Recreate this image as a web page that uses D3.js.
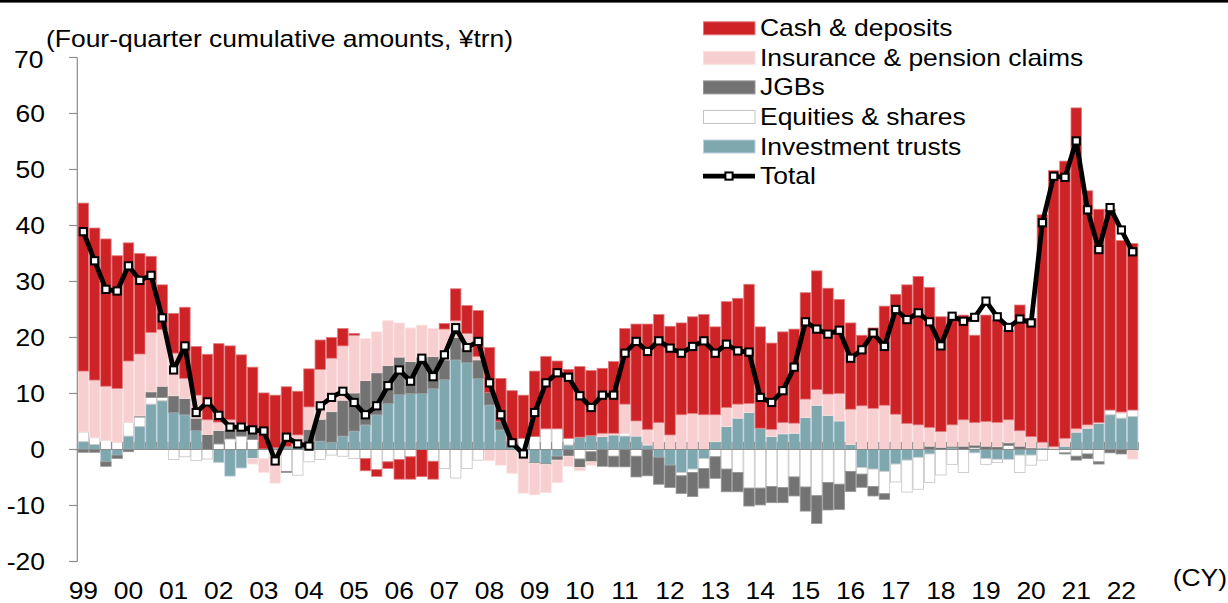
<!DOCTYPE html>
<html><head><meta charset="utf-8">
<script src="https://cdn.jsdelivr.net/npm/d3@7"></script>
<style>body{margin:0;background:#fff} text{font-family:"Liberation Sans",Arial,sans-serif;fill:#000}</style>
</head><body><svg id="c" width="1228" height="603"></svg>
<script>
const quarters = [
"1999Q1","1999Q2","1999Q3","1999Q4","2000Q1","2000Q2","2000Q3","2000Q4",
"2001Q1","2001Q2","2001Q3","2001Q4","2002Q1","2002Q2","2002Q3","2002Q4",
"2003Q1","2003Q2","2003Q3","2003Q4","2004Q1","2004Q2","2004Q3","2004Q4",
"2005Q1","2005Q2","2005Q3","2005Q4","2006Q1","2006Q2","2006Q3","2006Q4",
"2007Q1","2007Q2","2007Q3","2007Q4","2008Q1","2008Q2","2008Q3","2008Q4",
"2009Q1","2009Q2","2009Q3","2009Q4","2010Q1","2010Q2","2010Q3","2010Q4",
"2011Q1","2011Q2","2011Q3","2011Q4","2012Q1","2012Q2","2012Q3","2012Q4",
"2013Q1","2013Q2","2013Q3","2013Q4","2014Q1","2014Q2","2014Q3","2014Q4",
"2015Q1","2015Q2","2015Q3","2015Q4","2016Q1","2016Q2","2016Q3","2016Q4",
"2017Q1","2017Q2","2017Q3","2017Q4","2018Q1","2018Q2","2018Q3","2018Q4",
"2019Q1","2019Q2","2019Q3","2019Q4","2020Q1","2020Q2","2020Q3","2020Q4",
"2021Q1","2021Q2","2021Q3","2021Q4","2022Q1","2022Q2"];
const yearLabels = ["99","00","01","02","03","04","05","06","07","08","09","10","11","12","13","14","15","16","17","18","19","20","21","22"];
const yTicks = [-20,-10,0,10,20,30,40,50,60,70];

const investmentTrusts = [1.4,0.9,-2.2,-1.0,2.4,4.1,8.1,8.7, 6.6,6.2,3.4,0,-2.3,-4.75,-3.3,-1.6,
 0.1,0.3,0.5,0.5,0,1.5,1.3,2.4, 3.3,4.4,6.2,8.2,9.8,10.0,10.0,10.9, 12.5,16.0,15.5,12.7,7.95,3.5,0.5,-1.0,
 -2.3,-2.5,-1.2,0.8,2.2,2.5,2.3,2.6, 2.4,2.4,0.8,-1.4,-2.8,-4.1,-3.5,-1.6, 1.4,4.1,5.6,6.6,3.8,2.3,2.8,2.9,
 5.7,7.9,6.1,5.1,0.9,-3.2,-3.5,-3.9, -2.6,-1.9,-1.4,-0.8,0,0.3,0,-0.6, -1.6,-1.75,-1.75,-1.0,-1.0,0.3,0,0.6,
 3.1,3.8,4.7,6.2,5.6,5.9];
const equities = [1.7,1.2,1.6,1.3,2.45,1.7,1.2,0.6, -1.8,-1.3,-2.0,-1.7,1.0,1.9,2.4,1.8,
 -1.7,0,-3.9,-4.6,-2.2,-1.8,-1.0,-1.2, -1.6,-1.6,-3.6,-2.2,-1.8,-1.3,0,-2.1, -3.4,-5.1,-3.4,-1.9,0,0,0,2.0,
 2.3,3.7,3.7,1.2,-1.7,-0.4,0,-1.2, 0.5,-1.2,0,0,0,-0.6,-0.6,-1.8, -1.3,-3.5,-4.1,-6.9,-6.9,-6.6,-6.8,-4.9,
 -6.7,-8.25,-5.9,-6.2,-3.9,-1.2,-3.1,-4.0, -3.2,-5.7,-5.7,-5.1,-4.55,-2.65,-4.1,0.3, -1.05,-0.6,0.7,-3.1,-1.8,-1.9,0,-0.6,
 -1.2,-0.8,-2.2,0.85,0.85,1.15];
const jgbs = [-0.5,-0.5,-0.8,-0.6,-0.4,0.2,1.0,2.0, 3.0,2.9,2.2,2.7,2.4,1.6,1.3,1.6,
 0,0,-0.2,0,3.6,3.9,5.45,6.4, 6.8,7.9,7.5,6.8,6.7,5.7,6.5,5.7, 3.5,4.0,2.6,3.3,2.2,1.5,0,0,
 -0.2,-0.2,-0.7,-1.2,-1.5,-1.8,-3.0,-1.9, -3.1,-3.7,-4.7,-4.8,-4.0,-3.15,-4.3,-3.5, -3.85,-4.05,-3.45,-3.2,-3.0,-2.9,-2.7,-3.4,
 -4.3,-4.95,-4.9,-4.5,-3.6,-2.35,-1.7,-1.0, 0,0,0,0.6,0.4,0.3,0.6,0.5, 0.6,0.5,0.5,0.6,0.3,0,0.2,-0.2,
 -0.7,-0.8,-0.4,-0.6,-0.8,-0.2];
const insurance = [10.9,10.3,9.7,9.6,10.95,11.05,10.6,10.1, 7.6,3.6,4.1,2.6,1.5,1.8,1.0,-1.0,
 -2.4,-6.0,0,2.1,4.0,8.9,9.55,9.7, 10.3,7.5,7.3,8.0,6.1,6.0,5.7,5.0, 5.5,3.0,2.6,0.6,-2.0,-2.8,-4.25,-6.8,
 -5.6,-5.0,-4.0,-1.8,-0.6,-0.6,0.6,0.3, 5.2,2.7,2.8,4.8,2.6,6.2,6.45,6.2, 4.8,3.4,2.5,1.6,0,1.3,2.0,1.8,
 3.3,2.8,3.8,4.9,6.3,7.8,7.35,7.9, 6.3,4.65,4.4,3.35,2.8,3.8,4.7,4.0, 4.4,4.35,4.1,2.75,2.0,1.0,0.3,1.4,
 0.6,0.6,0.1,0,0.25,-1.5];
const cash = [30.0,27.15,26.3,23.7,21.1,17.95,13.6,8.0, 7.1,12.7,8.7,11.7,14.0,13.2,12.2,11.3,
 10.0,9.4,10.7,7.8,6.8,5.25,3.7,3.1, 0.3,-2.2,-1.2,-1.2,-3.5,-4.0,-4.85,-3.2, 1.0,5.7,5.0,8.2,8.05,7.7,10.0,7.7,
 11.7,12.9,12.1,12.3,12.6,11.6,11.6,12.8, 13.5,17.3,18.8,19.3,19.4,16.4,17.25,17.9, 15.7,18.9,18.9,21.3,18.1,15.4,16.2,16.8,
 19.0,21.2,18.9,16.8,15.4,12.6,14.35,17.7, 21.4,24.75,26.5,25.0,20.5,19.3,18.7,15.6, 19.0,18.25,16.0,22.45,21.1,40.6,49.3,49.5,
 57.3,41.8,38.1,35.85,30.6,29.75];
const total = [38.9,33.7,28.6,28.3,32.8,30.2,31.1,23.5, 14.2,18.5,6.6,8.5,6.1,4.0,4.0,3.5,
 3.3,-2.05,2.2,1.0,0.6,7.8,9.3,10.4, 8.4,6.2,7.8,11.4,14.2,12.2,16.3,13.0, 16.9,21.75,18.2,19.3,11.9,6.2,1.2,-0.8,
 6.6,11.9,13.7,12.9,9.6,7.5,9.7,9.7, 17.2,19.3,17.5,19.4,18.1,17.2,18.4,19.4, 17.2,18.8,17.6,17.4,9.3,8.4,10.5,14.7,
 22.8,21.5,20.6,21.3,16.3,17.8,20.8,18.4, 25.0,23.2,24.4,22.8,18.5,23.8,22.9,23.6, 26.5,23.7,21.8,23.3,22.6,40.5,48.8,48.6,
 55.1,42.8,35.7,43.2,39.2,35.3];

const keys = ["it","eq","jgb","ins","cash"];
const style = {
  cash:{fill:"#CD2226",stroke:"#E27A7C",name:"Cash & deposits"},
  ins:{fill:"#F8CFD0",stroke:"#FBE2E2",name:"Insurance & pension claims"},
  jgb:{fill:"#737373",stroke:"#969696",name:"JGBs"},
  eq:{fill:"#FFFFFF",stroke:"#C4C4C4",name:"Equities & shares"},
  it:{fill:"#7FA8AE",stroke:"#BCD0E2",name:"Investment trusts"}
};
const rows = quarters.map((q,i)=>({q, it:investmentTrusts[i], eq:equities[i], jgb:jgbs[i], ins:insurance[i], cash:cash[i], total:total[i]}));

const svg = d3.select("#c");
const SX = 1.15, FS = 23;
function txt(x,y,s,anchor){
  return svg.append("text").attr("transform",`translate(${x},${y}) scale(${SX},1)`)
    .attr("text-anchor",anchor||"start").attr("font-size",FS).text(s);
}

const x = d3.scaleBand().domain(quarters).range([77.7,1138.3]).padding(0);
const y = d3.scaleLinear().domain([-20,70]).range([561.5,57.5]);

// top rule
svg.append("rect").attr("x",0).attr("y",0).attr("width",1228).attr("height",2.6).attr("fill","#000");

const stack = d3.stack().keys(keys).offset(d3.stackOffsetDiverging)(rows);
const gb = svg.append("g");
stack.forEach(layer=>{
  const st = style[layer.key];
  gb.append("g").selectAll("rect").data(layer.filter(d=>d[1]!==d[0])).join("rect")
    .attr("x",d=>x(d.data.q)+0.4).attr("width",x.bandwidth()-0.8)
    .attr("y",d=>y(d[1])).attr("height",d=>y(d[0])-y(d[1]))
    .attr("fill",st.fill).attr("stroke",st.stroke).attr("stroke-width",0.8);
});

// zero line with quarter ticks
const z = y(0);
svg.append("line").attr("x1",77.7).attr("x2",1138.3).attr("y1",z).attr("y2",z).attr("stroke","#8c8c8c").attr("stroke-width",1.2);
svg.append("g").selectAll("line").data(quarters).join("line")
  .attr("x1",d=>x(d)+x.bandwidth()).attr("x2",d=>x(d)+x.bandwidth())
  .attr("y1",z).attr("y2",z-7.5).attr("stroke","#8c8c8c").attr("stroke-width",1);

// y axis
svg.append("line").attr("x1",77.3).attr("x2",77.3).attr("y1",y(70)).attr("y2",y(-20)).attr("stroke","#8c8c8c").attr("stroke-width",1.2);
yTicks.forEach(t=>{
  svg.append("line").attr("x1",69).attr("x2",77.3).attr("y1",y(t)).attr("y2",y(t)).attr("stroke","#8c8c8c").attr("stroke-width",1.2);
  txt(t===70?43.5:45, y(t)+8.6+(t===70?1.4:0), String(t), "end");
});

// x labels
yearLabels.forEach((lab,i)=>{
  const q = quarters[i*4];
  txt(x(q)+x.bandwidth()/2, 598.5, lab, "middle");
});
txt(1227, 586, "(CY)", "end");

// title
txt(46, 46.5, "(Four-quarter cumulative amounts, \u00a5trn)", "start");

// total line
const cx = d=>x(d.q)+x.bandwidth()/2;
svg.append("path").datum(rows).attr("d",d3.line().x(cx).y(d=>y(d.total)))
  .attr("fill","none").attr("stroke","#000").attr("stroke-width",4.8).attr("stroke-linejoin","round");
const M = 7.2;
svg.append("g").selectAll("rect").data(rows).join("rect")
  .attr("x",d=>cx(d)-M/2).attr("y",d=>y(d.total)-M/2).attr("width",M).attr("height",M)
  .attr("fill","#fff").attr("stroke","#000").attr("stroke-width",2);

// legend
const legendKeys = ["cash","ins","jgb","eq","it"];
const ly0 = 28.3, lsp = 29.55;
legendKeys.forEach((k,i)=>{
  const cy = ly0 + i*lsp;
  svg.append("rect").attr("x",703.5).attr("y",cy-6.5).attr("width",51.5).attr("height",13)
    .attr("fill",style[k].fill).attr("stroke",style[k].stroke).attr("stroke-width",1);
  txt(760, cy+8, style[k].name, "start");
});
const tcy = ly0 + 5*lsp;
svg.append("line").attr("x1",703).attr("x2",755).attr("y1",tcy).attr("y2",tcy).attr("stroke","#000").attr("stroke-width",4.8);
svg.append("rect").attr("x",729-M/2).attr("y",tcy-M/2).attr("width",M).attr("height",M).attr("fill","#fff").attr("stroke","#000").attr("stroke-width",2);
txt(760, tcy+8, "Total", "start");
</script></body></html>
